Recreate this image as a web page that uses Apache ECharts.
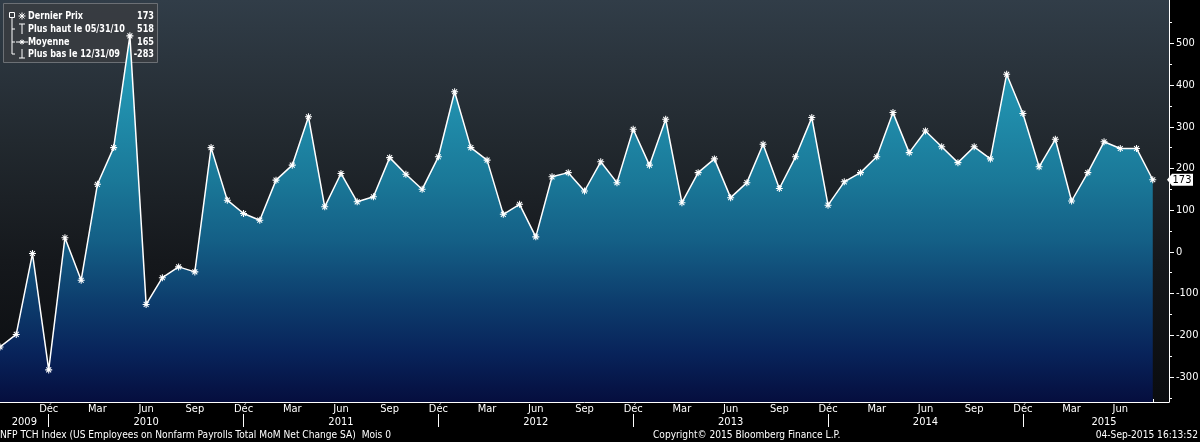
<!DOCTYPE html>
<html>
<head>
<meta charset="utf-8">
<script src="https://cdn.jsdelivr.net/npm/echarts@6/dist/echarts.min.js"></script>
<style>
html,body{margin:0;padding:0;background:#000;}
#c{width:1200px;height:442px;}
</style>
</head>
<body>
<div id="c"></div>
<script>
// ---- data ----
const months = [
 '2009-09','2009-10','2009-11','2009-12',
 '2010-01','2010-02','2010-03','2010-04','2010-05','2010-06','2010-07','2010-08','2010-09','2010-10','2010-11','2010-12',
 '2011-01','2011-02','2011-03','2011-04','2011-05','2011-06','2011-07','2011-08','2011-09','2011-10','2011-11','2011-12',
 '2012-01','2012-02','2012-03','2012-04','2012-05','2012-06','2012-07','2012-08','2012-09','2012-10','2012-11','2012-12',
 '2013-01','2013-02','2013-03','2013-04','2013-05','2013-06','2013-07','2013-08','2013-09','2013-10','2013-11','2013-12',
 '2014-01','2014-02','2014-03','2014-04','2014-05','2014-06','2014-07','2014-08','2014-09','2014-10','2014-11','2014-12',
 '2015-01','2015-02','2015-03','2015-04','2015-05','2015-06','2015-07','2015-08','2015-09'
];
const payrolls = [
 -228,-198,-4,-283,
 34,-68,162,250,518,-126,-62,-36,-48,250,124,92,
 76,172,208,324,108,188,120,132,226,186,150,228,
 384,250,220,90,114,36,180,190,146,216,166,294,
 208,318,118,190,223,130,166,258,152,228,322,112,
 168,190,228,334,238,290,252,214,252,223,426,332,
 204,270,122,190,264,248,248,173
];
const monthLabels = {'12':'Déc','03':'Mar','06':'Jun','09':'Sep'};
const yTickValues = [-300,-200,-100,0,100,200,300,400,500];
const yMinorTickValues = [-350,-250,-150,-50,50,150,250,350,450,550];
const legendLabels = ['Dernier Prix','Plus haut le 05/31/10','Moyenne','Plus bas le 12/31/09'];
const legendValues = ['173','518','165','-283'];
const footerLeft = 'NFP TCH Index (US Employees on Nonfarm Payrolls Total MoM Net Change SA)  Mois 0';
const footerMid = 'Copyright\u00A9 2015 Bloomberg Finance L.P.';
const footerRight = '04-Sep-2015 16:13:52';

// ---- derived ----
const FONT = "'Liberation Sans Narrow','DejaVu Sans Condensed','Liberation Sans',sans-serif";
const yearIdx = {};
months.forEach((m,i)=>{const y=m.slice(0,4);(yearIdx[y]=yearIdx[y]||[]).push(i);});
const yearPos = [], yearMap = {};
Object.keys(yearIdx).forEach(y=>{
  const a = yearIdx[y];
  const p = a.length>=12 ? a[5] : (a[0]+a[a.length-1])/2;
  yearPos.push(p); yearMap[p]=y;
});
const decIdx = months.map((m,i)=>m.slice(5)==='12'?i:-1).filter(i=>i>=0);
const lastIdx = payrolls.length-1;

const ASTER = 'path://M-0.15,-1 L0.15,-1 L0.15,1 L-0.15,1 Z M-1,-0.15 L1,-0.15 L1,0.15 L-1,0.15 Z ' +
  'M-0.594,-0.806 L0.806,0.594 L0.594,0.806 L-0.806,-0.594 Z M0.806,-0.594 L-0.594,0.806 L-0.806,0.594 L0.594,-0.806 Z';

function aster(cx,cy,r){
  const d=r*0.707;
  const ls={stroke:'#fff',lineWidth:1};
  return [
    {type:'line',shape:{x1:cx-r,y1:cy,x2:cx+r,y2:cy},style:ls},
    {type:'line',shape:{x1:cx,y1:cy-r,x2:cx,y2:cy+r},style:ls},
    {type:'line',shape:{x1:cx-d,y1:cy-d,x2:cx+d,y2:cy+d},style:ls},
    {type:'line',shape:{x1:cx-d,y1:cy+d,x2:cx+d,y2:cy-d},style:ls}
  ];
}
const rowY=[16,29,42,54];
const ls={stroke:'#fff',lineWidth:1};
const legendEls = [
  {type:'rect',shape:{x:3.5,y:3.5,width:154,height:59},style:{fill:'rgba(56,60,64,0.9)',stroke:'#6c7075',lineWidth:1}},
  {type:'rect',shape:{x:9.5,y:12.5,width:5,height:5},style:{fill:'none',stroke:'#fff',lineWidth:1}},
  {type:'line',shape:{x1:12,y1:18,x2:12,y2:rowY[3]},style:ls},
  {type:'line',shape:{x1:12,y1:rowY[1],x2:15,y2:rowY[1]},style:ls},
  {type:'line',shape:{x1:12,y1:rowY[2],x2:15,y2:rowY[2]},style:ls},
  {type:'line',shape:{x1:12,y1:rowY[3],x2:15,y2:rowY[3]},style:ls},
  ...aster(22,rowY[0],3.5),
  {type:'line',shape:{x1:19,y1:rowY[1]-5,x2:25,y2:rowY[1]-5},style:ls},
  {type:'line',shape:{x1:22,y1:rowY[1]-5,x2:22,y2:rowY[1]+5},style:ls},
  {type:'line',shape:{x1:16,y1:rowY[2],x2:28,y2:rowY[2]},style:ls},
  ...aster(22,rowY[2],2.5),
  {type:'line',shape:{x1:22,y1:rowY[3]-5,x2:22,y2:rowY[3]+4},style:ls},
  {type:'line',shape:{x1:19,y1:rowY[3]+4,x2:25,y2:rowY[3]+4},style:ls}
];
legendLabels.forEach((t,i)=>{
  legendEls.push({type:'text',x:28,y:rowY[i],scaleX:0.82,style:{text:t,fill:'#fff',font:'bold 11px '+FONT,align:'left',verticalAlign:'middle',textAlign:'left',textVerticalAlign:'middle'}});
  legendEls.push({type:'text',x:154,y:rowY[i],scaleX:0.82,style:{text:legendValues[i],fill:'#fff',font:'bold 11px '+FONT,align:'right',verticalAlign:'middle',textAlign:'right',textVerticalAlign:'middle'}});
});

const footerStyle = (text,align)=>({text,fill:'#fff',font:'11px '+FONT,align,verticalAlign:'middle',textAlign:align,textVerticalAlign:'middle'});

const chart = echarts.init(document.getElementById('c'),null,{renderer:'canvas'});
chart.setOption({
  animation:false,
  backgroundColor:'#000',
  textStyle:{fontFamily:FONT},
  grid:{left:0,right:31,top:0,bottom:40,containLabel:false,outerBoundsMode:'none',show:true,borderWidth:0,
    backgroundColor:new echarts.graphic.LinearGradient(0,0,0,1,[
      {offset:0,color:'#313d48'},{offset:0.35,color:'#22292f'},{offset:0.65,color:'#15181c'},{offset:1,color:'#0a0c0f'}])},
  xAxis:[
    {type:'category',data:months,boundaryGap:false,position:'bottom',
     axisLine:{show:true,onZero:false,lineStyle:{color:'#fff',width:1}},
     axisTick:{show:true,inside:true,length:3,interval:0,lineStyle:{color:'#fff'}},
     axisLabel:{interval:(i,v)=>i>0&&i<months.length-1&&!!monthLabels[v.slice(5)],
       formatter:v=>monthLabels[v.slice(5)]||'',color:'#fff',fontSize:11,margin:2,fontFamily:FONT},
     splitLine:{show:false}},
    {type:'value',min:0,max:months.length-1,position:'bottom',offset:12,
     axisLine:{show:false,onZero:false},splitLine:{show:false},
     axisTick:{show:true,customValues:decIdx,length:13,inside:false,lineStyle:{color:'#fff',width:1}},
     axisLabel:{customValues:yearPos,formatter:v=>yearMap[v]||'',margin:3,color:'#fff',fontSize:11,fontFamily:FONT}}
  ],
  yAxis:[
    {type:'value',position:'right',min:-360,max:604,
     axisLine:{show:true,onZero:false,lineStyle:{color:'#fff',width:1}},
     axisTick:{show:true,customValues:yTickValues,length:5,lineStyle:{color:'#fff'}},
     axisLabel:{customValues:yTickValues,color:'#fff',fontSize:11,margin:7,fontFamily:FONT},
     splitLine:{show:false}},
    {type:'value',position:'right',min:-360,max:604,
     axisLine:{show:false,onZero:false},
     axisTick:{show:true,customValues:yMinorTickValues,length:3,lineStyle:{color:'#fff'}},
     axisLabel:{show:false},splitLine:{show:false}}
  ],
  series:[{
    type:'line',data:payrolls,xAxisIndex:0,yAxisIndex:0,
    symbol:ASTER,symbolSize:7,showSymbol:true,showAllSymbol:true,
    lineStyle:{color:'#fff',width:1.5},
    itemStyle:{color:'#fff'},
    areaStyle:{origin:'start',opacity:1,color:new echarts.graphic.LinearGradient(0,0,0,402,[
      {offset:0,color:'#2eaac6'},{offset:0.2,color:'#2396b3'},{offset:0.45,color:'#1a7898'},
      {offset:0.6,color:'#145f86'},{offset:0.75,color:'#0d3d6d'},{offset:0.88,color:'#08235a'},{offset:1,color:'#050e3e'}],true)},
    markPoint:{
      symbol:'path://M0,6 L5,0 L26,0 L26,12 L5,12 Z',symbolSize:[26,12],symbolKeepAspect:false,
      symbolOffset:[11,0],silent:true,
      itemStyle:{color:'#fff'},
      label:{show:true,position:'inside',offset:[2,0],color:'#000',fontSize:11,fontFamily:FONT,formatter:p=>String(p.value)},
      data:[{coord:[months[months.length-1],payrolls[lastIdx]],value:payrolls[lastIdx]}]
    }
  }],
  graphic:[
    {type:'group',z:100,children:legendEls},
    {type:'text',x:0,y:435,z:100,scaleX:0.92,style:footerStyle(footerLeft,'left')},
    {type:'text',x:653,y:435,z:100,scaleX:0.92,style:footerStyle(footerMid,'left')},
    {type:'text',x:1198,y:435,z:100,scaleX:0.92,style:footerStyle(footerRight,'right')}
  ]
});
</script>
</body>
</html>
